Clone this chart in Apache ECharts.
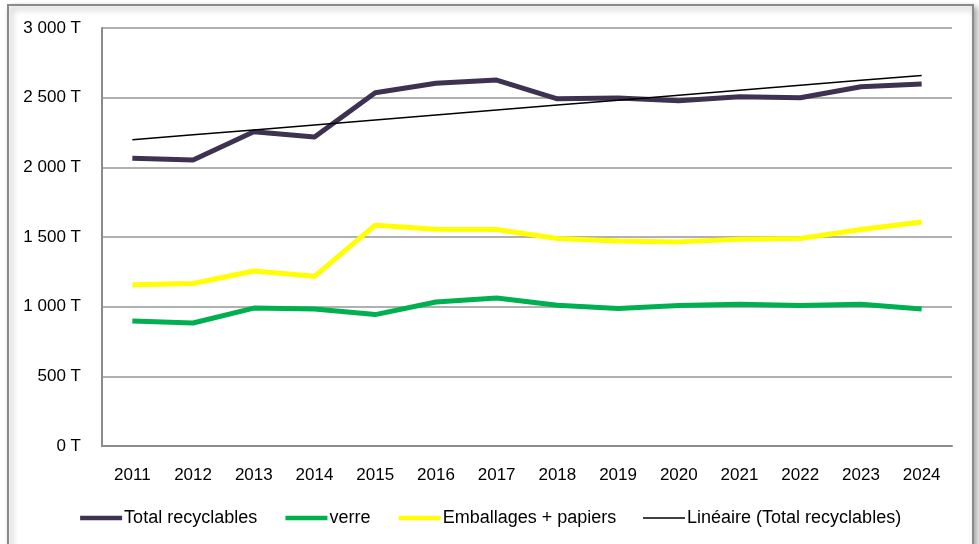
<!DOCTYPE html>
<html>
<head>
<meta charset="utf-8">
<script src="https://cdn.jsdelivr.net/npm/echarts@6/dist/echarts.min.js"></script>
<style>
  html, body { margin: 0; padding: 0; background: #fff; }
  #chart { width: 979px; height: 544px; }
</style>
</head>
<body>
<div id="chart"></div>
<script>
const years = ['2011', '2012', '2013', '2014', '2015', '2016', '2017', '2018', '2019', '2020', '2021', '2022', '2023', '2024']
const totalRecyclables = [2066, 2052, 2255, 2217, 2535, 2603, 2626, 2492, 2497, 2478, 2506, 2499, 2578, 2598]
const verre = [897, 883, 990, 983, 943, 1033, 1062, 1010, 986, 1008, 1017, 1008, 1017, 983]
const emballages = [1158, 1166, 1256, 1218, 1585, 1556, 1554, 1489, 1472, 1465, 1484, 1489, 1554, 1608]
const yTicks = [0, 500, 1000, 1500, 2000, 2500, 3000]

// linear trend (least squares) of the total
const n = totalRecyclables.length
const xm = (n - 1) / 2
const ym = totalRecyclables.reduce((a, b) => a + b, 0) / n
let sxy = 0, sxx = 0
totalRecyclables.forEach((v, i) => { sxy += (i - xm) * (v - ym); sxx += (i - xm) * (i - xm) })
const slope = sxy / sxx
const trend = totalRecyclables.map((v, i) => ym + slope * (i - xm))

const fmt = v => String(v).replace(/\B(?=(\d{3})+(?!\d))/g, ' ') + ' T'
const font = '"Liberation Sans", Arial, sans-serif'

const chart = echarts.init(document.getElementById('chart'))
chart.setOption({
    animation: false,
    textStyle: { fontFamily: font },
    graphic: [{
        type: 'rect',
        shape: { x: 8, y: 5, width: 965, height: 620 },
        style: {
            fill: '#fff',
            stroke: '#8a8a8a',
            lineWidth: 2,
            shadowBlur: 6,
            shadowOffsetX: 3,
            shadowOffsetY: 3,
            shadowColor: 'rgba(0,0,0,0.35)'
        },
        z: -10,
        silent: true
    }],
    grid: { left: 102, right: 27, top: 28, bottom: 98 },
    legend: {
        top: 504,
        left: 'center',
        itemWidth: 42,
        itemHeight: 14,
        itemGap: 26,
        itemStyle: { opacity: 0 },
        textStyle: { fontSize: 18, color: '#000', fontFamily: font, padding: [0, 0, 0, -3] },
        data: [
            { name: 'Total recyclables', lineStyle: { width: 4.5 } },
            { name: 'verre', lineStyle: { width: 4.5 } },
            { name: 'Emballages + papiers', lineStyle: { width: 4.5 } },
            { name: 'Linéaire (Total recyclables)', lineStyle: { width: 1.5 } }
        ]
    },
    xAxis: {
        type: 'category',
        data: years,
        boundaryGap: true,
        axisLine: { lineStyle: { color: '#8c8c8c', width: 2 } },
        axisTick: { show: false },
        axisLabel: { color: '#000', fontSize: 17, margin: 21 }
    },
    yAxis: {
        type: 'value',
        min: yTicks[0],
        max: yTicks[yTicks.length - 1],
        interval: 500,
        axisLine: { show: true, lineStyle: { color: '#8c8c8c', width: 2 } },
        axisTick: { show: false },
        splitLine: { lineStyle: { color: '#969696', width: 1.5 } },
        axisLabel: { color: '#000', fontSize: 17, margin: 21, formatter: fmt }
    },
    series: [
        {
            name: 'Total recyclables',
            type: 'line',
            data: totalRecyclables,
            symbol: 'none',
            lineStyle: { color: '#3f3151', width: 5 },
            itemStyle: { color: '#3f3151' },
            z: 4
        },
        {
            name: 'verre',
            type: 'line',
            data: verre,
            symbol: 'none',
            lineStyle: { color: '#00b050', width: 5 },
            itemStyle: { color: '#00b050' }
        },
        {
            name: 'Emballages + papiers',
            type: 'line',
            data: emballages,
            symbol: 'none',
            lineStyle: { color: '#ffff00', width: 5 },
            itemStyle: { color: '#ffff00' }
        },
        {
            name: 'Linéaire (Total recyclables)',
            type: 'line',
            data: trend,
            symbol: 'none',
            lineStyle: { color: '#000', width: 1.5 },
            itemStyle: { color: '#000' },
            z: 5
        }
    ]
})
</script>
</body>
</html>
